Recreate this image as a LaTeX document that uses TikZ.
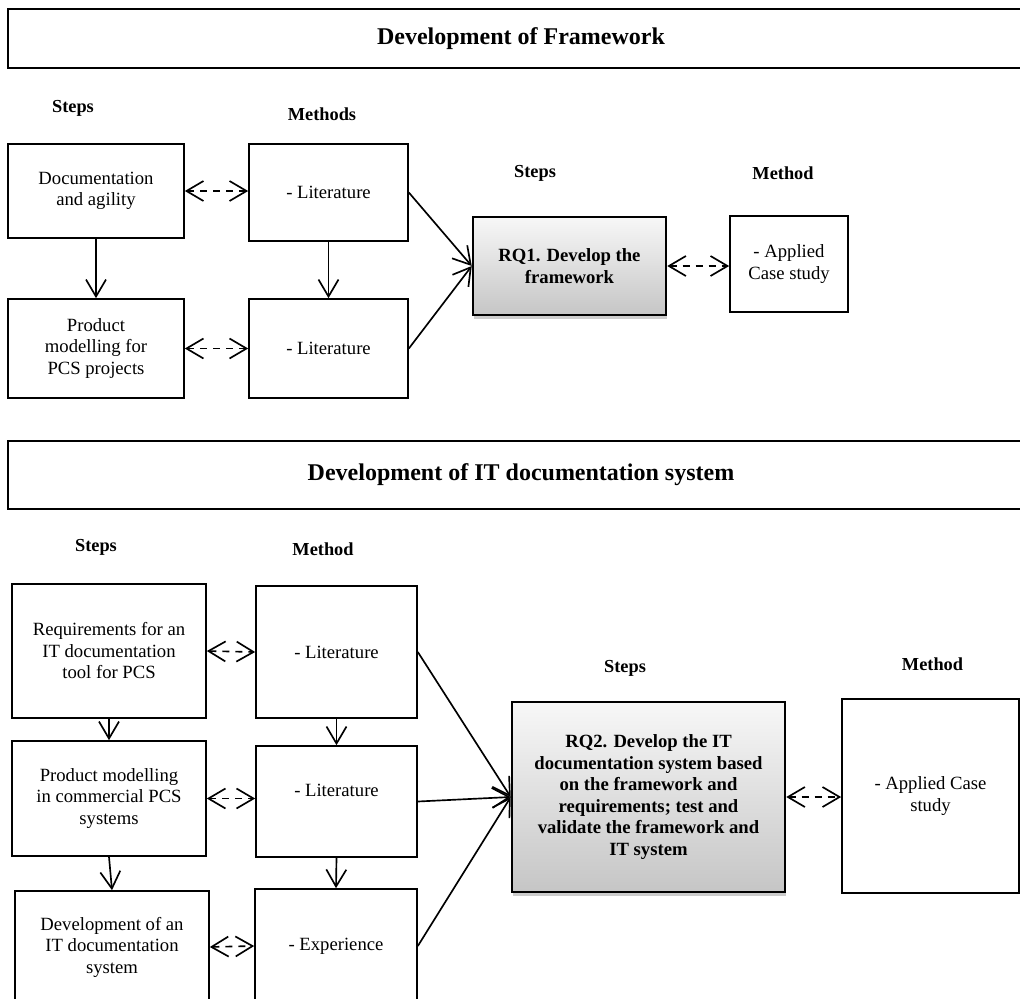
\documentclass[tikz,border=0pt]{standalone}
\usepackage{fontspec}
\setmainfont{Liberation Serif}
\usetikzlibrary{arrows.meta,shadows}

\begin{document}
\begin{tikzpicture}[
                            x=0.6pt, y=-0.6pt,
                            line width=1pt,
                            >={Straight Barb[length=10.2pt,width=12pt]},
                            every node/.style={font=\fontsize{11.2}{12.9}\selectfont},
                            block/.style={rectangle, draw, align=center, inner sep=2pt},
                            titlebox/.style={rectangle, draw, font=\fontsize{14.4}{16}\selectfont\bfseries},
                            headlabel/.style={font=\fontsize{11}{12.9}\selectfont\bfseries},
                            rqbox/.style={rectangle, draw, line width=1.5pt, align=center,
                                top color=gray!6, bottom color=gray!45,
                                drop shadow={shadow xshift=0.8pt, shadow yshift=-2.4pt, fill=gray!40, opacity=1},
                                font=\fontsize{11.2}{12.9}\selectfont\bfseries},
                            dashedarrow/.style={<->, dash pattern=on 4.2pt off 3.6pt}
                        ]
                        \useasboundingbox (0,0) rectangle (1020,998);
                        \clip (0,0) rectangle (1020,998);

                        % Blocks: framework
                        \node [titlebox, minimum width=615.6pt, minimum height=35.4pt] (TF) at (521,38.5) {Development of Framework};
                        \node [headlabel] (SA) at (73,108) {Steps};
                        \node [headlabel] (MA) at (322,114) {Methods};
                        \node [headlabel] (SB) at (535,173) {Steps};
                        \node [headlabel] (MB) at (783,173) {Method};
                        \node [block, minimum width=105.6pt, minimum height=56.4pt] (DOC) at (96,191) {Documentation\\and agility};
                        \node [block, minimum width=95.4pt, minimum height=58.2pt] (LIT1) at (328.5,192.5) {- Literature};
                        \node [block, minimum width=105.6pt, minimum height=59.4pt] (PM) at (96,348.5) {Product\\modelling for\\PCS projects};
                        \node [block, minimum width=95.4pt, minimum height=59.4pt] (LIT2) at (328.5,348.5) {- Literature};
                        \node [rqbox, minimum width=115.8pt, minimum height=58.8pt] (RQ1) at (569.5,266) {RQ1. Develop the\\framework};
                        \node [block, minimum width=70.8pt, minimum height=57.6pt] (CS1) at (789,264) {- Applied\\Case study};

                        % Blocks: IT documentation system
                        \node [titlebox, minimum width=615.6pt, minimum height=40.8pt] (TS) at (521,475) {Development of IT documentation system};
                        \node [headlabel] (SC) at (96,547) {Steps};
                        \node [headlabel] (MC) at (323,549) {Method};
                        \node [headlabel] (SD) at (625,668) {Steps};
                        \node [headlabel] (MD) at (932.5,664) {Method};
                        \node [block, minimum width=116.4pt, minimum height=80.4pt] (REQ) at (109,651) {Requirements for an\\IT documentation\\tool for PCS};
                        \node [block, minimum width=96.6pt, minimum height=79.2pt] (LIT3) at (336.5,652) {- Literature};
                        \node [block, minimum width=116.4pt, minimum height=69pt] (PMC) at (109,798.5) {Product modelling\\in commercial PCS\\systems};
                        \node [block, minimum width=96.6pt, minimum height=66.6pt] (LIT4) at (336.5,801.5) {- Literature\\\mbox{}};
                        \node [block, minimum width=116.4pt, minimum height=67.2pt] (DEV) at (112,947) {Development of an\\IT documentation\\system};
                        \node [block, minimum width=97.2pt, minimum height=68.4pt] (EXP) at (336,946) {- Experience};
                        \node [rqbox, minimum width=163.8pt, minimum height=114pt] (RQ2) at (648.5,797) {RQ2. Develop the IT\\documentation system based\\on the framework and\\requirements; test and\\validate the framework and\\IT system};
                        \node [block, minimum width=106.2pt, minimum height=116.4pt] (CS2) at (930.5,796) {- Applied Case\\study};

                        % Connections: framework
                        \draw [dashedarrow] (DOC.east) -- (DOC.east -| LIT1.west);
                        \draw [dashedarrow] (PM.east) -- (LIT2.west);
                        \draw [->] (DOC) -- (PM);
                        \draw [->] (LIT1) -- (LIT2);
                        \draw [->] (LIT1.east) -- (RQ1.west);
                        \draw [->] (LIT2.east) -- (RQ1.west);
                        \draw [dashedarrow] (RQ1.east) -- (RQ1.east -| CS1.west);

                        % Connections: IT documentation system
                        \draw [dashedarrow] (REQ.east) -- (LIT3.west);
                        \draw [dashedarrow] (PMC.east) -- (PMC.east -| LIT4.west);
                        \draw [dashedarrow] (DEV.east) -- (EXP.west);
                        \draw [->] (REQ) -- (PMC);
                        \draw [->] (PMC.south) -- (DEV.north);
                        \draw [->] (LIT3) -- (LIT4);
                        \draw [->] (LIT4.south) -- (EXP.north);
                        \draw [->] (LIT3.east) -- (RQ2.west);
                        \draw [->] (LIT4.east) -- (RQ2.west);
                        \draw [->] (EXP.east) -- (RQ2.west);
                        \draw [dashedarrow] (RQ2.east) -- (RQ2.east -| CS2.west);
                    \end{tikzpicture}
\end{document}
